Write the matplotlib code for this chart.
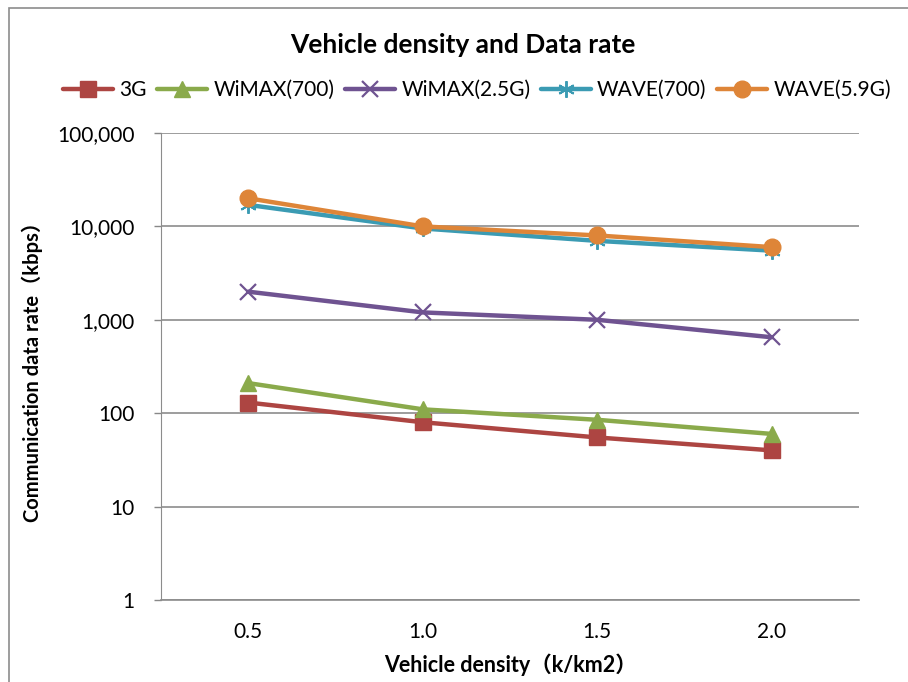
import matplotlib.pyplot as plt
import numpy as np
from matplotlib.patches import Rectangle
from matplotlib.ticker import FixedLocator, FuncFormatter, NullLocator

plt.rcParams['font.family'] = ['Lato', 'Noto Sans CJK JP', 'DejaVu Sans']

# data
densities = ['0.5', '1.0', '1.5', '2.0']
rate_3g = [130, 80, 55, 40]
rate_wimax700 = [210, 110, 85, 60]
rate_wimax25 = [2000, 1200, 1000, 650]
rate_wave700 = [17000, 9500, 7000, 5500]
rate_wave59 = [20000, 10000, 8000, 6000]

fig = plt.figure(figsize=(9.08, 6.82), dpi=100)
ax = fig.add_axes([161 / 908, 82 / 682, 698 / 908, 467 / 682])

x = np.arange(len(densities))
series = [
    ('3G', rate_3g, '#AD4542', 's', 11, 1.0),
    ('WiMAX(700)', rate_wimax700, '#8AAA4B', '^', 12, 1.0),
    ('WiMAX(2.5G)', rate_wimax25, '#6F5391', 'x', 11, 1.6),
    ('WAVE(700)', rate_wave700, '#3B9BB3', (6, 2, 0), 12, 1.4),
    ('WAVE(5.9G)', rate_wave59, '#DE8538', 'o', 12, 1.0),
]
for name, vals, col, mk, ms, mew in series:
    ax.plot(x, vals, color=col, lw=3.2, marker=mk, ms=ms, mew=mew,
            mec=col, mfc=col, label=name, solid_capstyle='round', zorder=3)

ax.set_yscale('log')
ax.set_ylim(1, 100000)
ax.set_xlim(-0.5, 3.5)
ax.yaxis.set_major_locator(FixedLocator([1, 10, 100, 1000, 10000, 100000]))
ax.yaxis.set_minor_locator(NullLocator())
ax.yaxis.set_major_formatter(FuncFormatter(lambda v, p: f'{int(round(v)):,}'))
ax.set_xticks(x)
ax.set_xticklabels(densities)
ax.tick_params(axis='x', length=0, pad=16, labelsize=15)
ax.tick_params(axis='y', length=5, width=1, color='#888888', pad=14, labelsize=15)
ax.grid(axis='y', color='#8C8C8C', lw=1.2)
ax.set_axisbelow(True)
for s in ['top', 'right']:
    ax.spines[s].set_visible(False)
ax.spines['left'].set_color('#8C8C8C')
ax.spines['bottom'].set_color('#8C8C8C')
ax.spines['bottom'].set_linewidth(1.2)

ax.set_xlabel('Vehicle density（k/km2）', fontsize=15.5, fontweight='bold', labelpad=8)
ax.set_ylabel('Communication data rate（kbps）', fontsize=14.5, fontweight='bold', labelpad=10)
fig.text(463 / 908, 1 - 45 / 682, 'Vehicle density and Data rate',
         ha='center', va='center', fontsize=19, fontweight='bold')

ax.legend(loc='center', bbox_to_anchor=(477 / 908, 1 - 90 / 682), bbox_transform=fig.transFigure,
          ncol=5, frameon=False, fontsize=15, handlelength=2.4, handletextpad=0.3,
          columnspacing=0.5, borderaxespad=0)

fig.patches.append(Rectangle((9 / 908, -0.2), 1.2, 1.2 - 8 / 682, transform=fig.transFigure,
                             fill=False, ec='#8C8C8C', lw=1.2))

fig.savefig('out.png', dpi=100)
